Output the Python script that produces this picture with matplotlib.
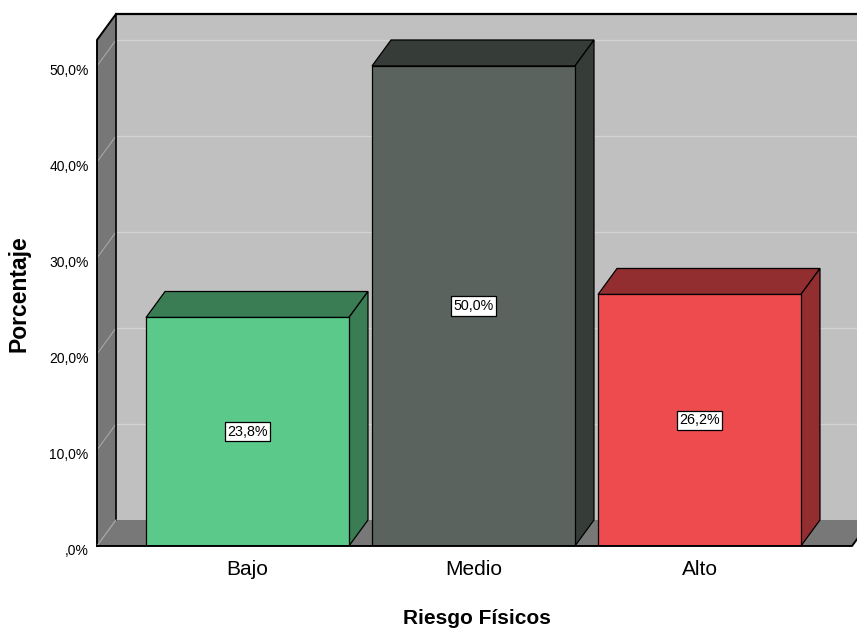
import matplotlib
matplotlib.use("Agg")
import matplotlib.pyplot as plt
from matplotlib.patches import Polygon, Rectangle
from matplotlib.transforms import ScaledTranslation

plt.rcParams["font.family"] = ["Liberation Sans", "DejaVu Sans"]

# Data
categories = ["Bajo", "Medio", "Alto"]
percentages = [23.8, 50.0, 26.2]
value_labels = ["23,8%", "50,0%", "26,2%"]
tick_values = [0, 10, 20, 30, 40, 50]
tick_labels = [",0%", "10,0%", "20,0%", "30,0%", "40,0%", "50,0%"]

# Styling
front_colors = ["#5bc98a", "#5a635d", "#ee4b4e"]
shade_colors = ["#3a7d55", "#363d38", "#922e30"]
wall_color = "#c0c0c0"
side_color = "#777777"
floor_color = "#787878"
grid_back = "#d3d3d3"
grid_side = "#a6a6a6"

bar_width = 0.898
depth_x = 0.0841      # depth offset along the category axis
depth_y = 2.706       # depth offset along the value axis
x_left, x_right = -0.6659, 2.6969
wall_top = 52.71
floor_right = 2.675

fig = plt.figure(figsize=(8.57, 6.29), dpi=100)
ax = fig.add_axes([0.1132, 0.1320, 0.8868, 0.8458])
ax.set_xlim(x_left, x_right)
ax.set_ylim(0, wall_top + depth_y)
for s in ax.spines.values():
    s.set_visible(False)
ax.set_facecolor("none")

# Back wall
ax.add_patch(Rectangle((x_left + depth_x, depth_y), x_right - x_left + 1,
                       wall_top, facecolor=wall_color, edgecolor="none", zorder=0))
ax.plot([x_left + depth_x, x_right + 1], [wall_top + depth_y] * 2,
        color="black", lw=1.6, zorder=3, clip_on=False, solid_capstyle="butt")

# Side wall
ax.add_patch(Polygon([(x_left, 0), (x_left + depth_x, depth_y),
                      (x_left + depth_x, wall_top + depth_y), (x_left, wall_top)],
                     closed=True, facecolor=side_color, edgecolor="none", zorder=1))

# Gridlines on the back wall and the side wall
for v in tick_values:
    if v > 0:
        ax.plot([x_left + depth_x, x_right + 1], [v + depth_y] * 2,
                color=grid_back, lw=1.0, zorder=0.5)
    ax.plot([x_left, x_left + depth_x], [v, v + depth_y],
            color=grid_side, lw=0.8, zorder=1.5)

# Floor
ax.add_patch(Polygon([(x_left, 0), (floor_right, 0),
                      (floor_right + depth_x, depth_y), (x_left + depth_x, depth_y)],
                     closed=True, facecolor=floor_color, edgecolor="none", zorder=2))
ax.plot([x_left, floor_right, floor_right + depth_x], [0, 0, depth_y],
        color="black", lw=1.4, zorder=6, clip_on=False)
ax.plot([x_left + depth_x, x_left + depth_x], [depth_y, wall_top + depth_y],
        color="black", lw=1.2, zorder=3, clip_on=False)
ax.plot([x_left, x_left, x_left + depth_x], [0, wall_top, wall_top + depth_y],
        color="black", lw=1.4, zorder=3, clip_on=False)
ax.plot([x_left, x_left + depth_x], [0, depth_y], color=grid_side, lw=0.8, zorder=3)

# Bars: front faces
x_pos = list(range(len(categories)))
bars = ax.bar(x_pos, percentages, width=bar_width, color=front_colors,
              edgecolor="black", linewidth=0.9, zorder=5)

# Bars: top and side faces
for bar, shade in zip(bars, shade_colors):
    x0 = bar.get_x()
    x1 = x0 + bar.get_width()
    h = bar.get_height()
    top = Polygon([(x0, h), (x0 + depth_x, h + depth_y),
                   (x1 + depth_x, h + depth_y), (x1, h)],
                  closed=True, facecolor=shade, edgecolor="black", lw=0.9, zorder=4)
    side = Polygon([(x1, 0), (x1 + depth_x, depth_y),
                    (x1 + depth_x, h + depth_y), (x1, h)],
                   closed=True, facecolor=shade, edgecolor="black", lw=0.9, zorder=4)
    ax.add_patch(top)
    ax.add_patch(side)

# Value labels
for xi, h, lab in zip(x_pos, percentages, value_labels):
    ax.text(xi, h / 2, lab, ha="center", va="center", fontsize=10.3, zorder=7,
            bbox=dict(boxstyle="square,pad=0.18", facecolor="white",
                      edgecolor="black", linewidth=0.9))

# Axes ticks and labels
ax.set_xticks(x_pos)
ax.set_xticklabels(categories, fontsize=15)
ax.set_yticks(tick_values)
ax.set_yticklabels(tick_labels, fontsize=10)
ax.tick_params(axis="x", length=0, pad=10)
ax.tick_params(axis="y", length=0, pad=6)
shift_down = ScaledTranslation(0, -2.5 / 72, fig.dpi_scale_trans)
for lab in ax.get_yticklabels():
    lab.set_transform(lab.get_transform() + shift_down)

ax.set_xlabel("Riesgo Físicos", fontsize=15, fontweight="bold", va="center")
ax.xaxis.set_label_coords(0.5, -0.137)
ax.set_ylabel("Porcentaje", fontsize=16.5, fontweight="bold", va="center")
ax.yaxis.set_label_coords(-0.102, 0.474)

fig.savefig("out.png", dpi=100, facecolor="white")
